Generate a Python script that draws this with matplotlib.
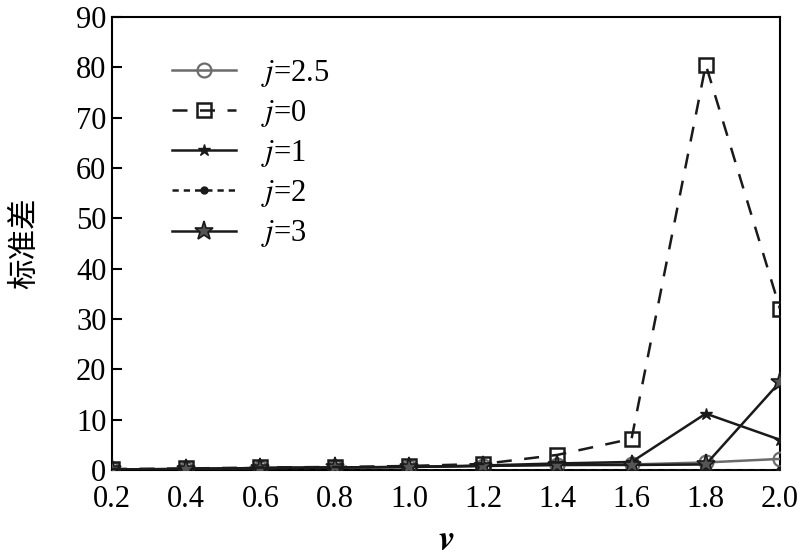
import matplotlib
matplotlib.use("Agg")
import matplotlib.pyplot as plt

v = [0.2, 0.4, 0.6, 0.8, 1.0, 1.2, 1.4, 1.6, 1.8, 2.0]
j25 = [0.1, 0.2, 0.4, 0.5, 0.6, 0.8, 1.0, 1.1, 1.5, 2.2]
j0 = [0.2, 0.3, 0.5, 0.6, 0.8, 1.2, 3.0, 6.2, 80.5, 32.0]
j1 = [0.1, 0.2, 0.4, 0.5, 0.6, 0.9, 1.3, 1.6, 11.2, 6.0]
j2 = [0.0, 0.0, 0.0, 0.0, 0.0, 0.0, 0.0, 0.0, 0.0, 0.0]
j3 = [0.1, 0.2, 0.4, 0.5, 0.6, 0.8, 1.0, 1.0, 1.1, 17.5]
xticks = [0.2, 0.4, 0.6, 0.8, 1.0, 1.2, 1.4, 1.6, 1.8, 2.0]
yticks = [0, 10, 20, 30, 40, 50, 60, 70, 80, 90]

plt.rcParams['font.family'] = ['Liberation Serif', 'Noto Sans CJK SC']
plt.rcParams['mathtext.fontset'] = 'stix'

fig = plt.figure(figsize=(8, 5.58), dpi=100)
ax = fig.add_axes([0.14, 0.1577, 0.835, 0.812])

dark = '#1a1a1a'
ax.plot(v, j25, color='#6b6b6b', lw=1.8, marker='o', ms=10, mfc='none', mec='#6b6b6b', mew=1.6,
        label='$j$=2.5', zorder=3)
ax.plot(v, j0, color=dark, lw=1.8, ls=(0, (6, 5)), marker='s', ms=10, mfc='none', mec=dark, mew=1.8,
        label='$j$=0', zorder=4)
ax.plot(v, j1, color=dark, lw=1.8, marker='*', ms=9, mfc=dark, mec=dark,
        label='$j$=1', zorder=3)
ax.plot(v, j2, color=dark, lw=1.8, ls=(0, (2.5, 2)), marker='o', ms=5, mfc=dark, mec=dark,
        label='$j$=2', zorder=3)
ax.plot(v, j3, color=dark, lw=1.8, marker='*', ms=14, mfc='#555555', mec=dark, mew=1.2,
        label='$j$=3', zorder=3)

ax.set_xlim(0.2, 2.0)
ax.set_ylim(0, 90)
ax.set_xticks(xticks)
ax.set_xticklabels([f'{t:.1f}' for t in xticks])
ax.set_yticks(yticks)
ax.tick_params(axis='y', direction='in', labelsize=22, length=7, width=1.5, pad=4)
ax.tick_params(axis='x', direction='in', labelsize=22, length=0, width=1.5, pad=11)
for s in ax.spines.values():
    s.set_linewidth(1.5)

ax.set_xlabel('$\\boldsymbol{v}$', fontsize=26, labelpad=8)
ax.set_ylabel('标准差', fontsize=22, family=['Noto Sans CJK SC'], labelpad=26)

leg = ax.legend(loc='upper left', bbox_to_anchor=(0.09, 0.91), frameon=False, fontsize=22,
                handlelength=2.1, labelspacing=0.3, handletextpad=0.8,
                borderaxespad=0, borderpad=0, markerscale=1.0)

fig.savefig('out.png', dpi=100)
